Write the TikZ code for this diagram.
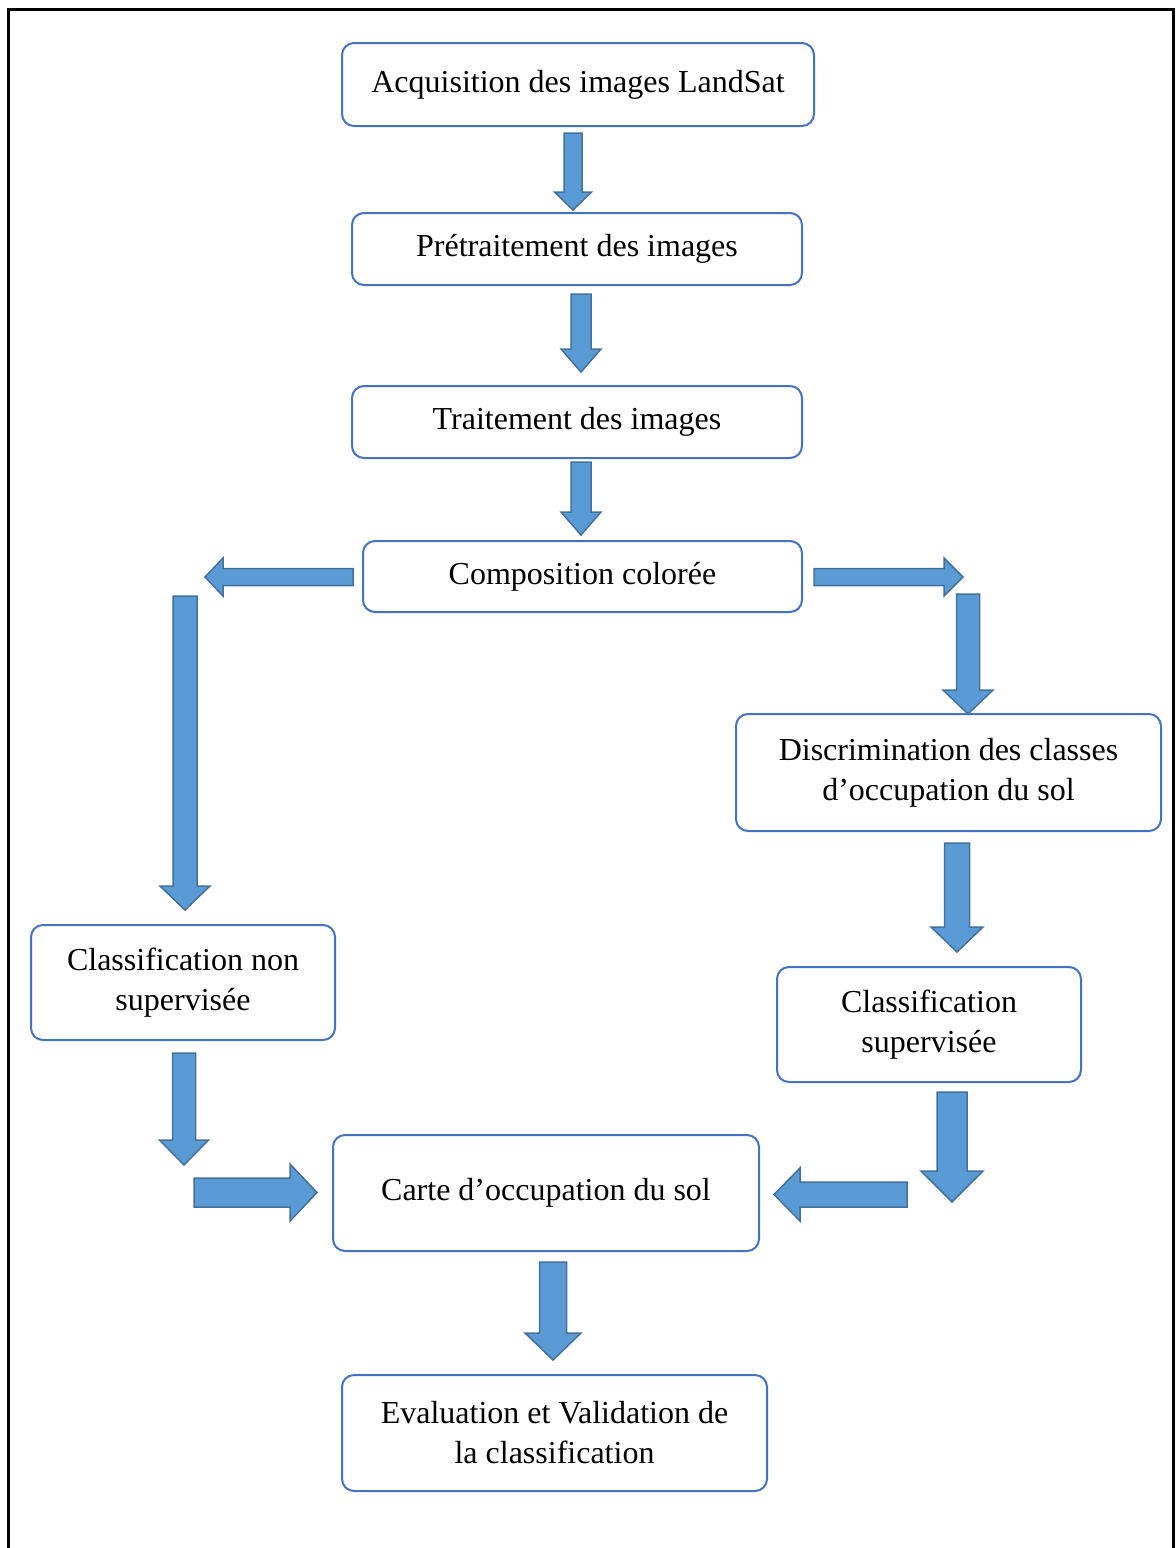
\documentclass[tikz,border=0pt]{standalone}
\usepackage{fontspec}
\setmainfont{Liberation Serif}
\definecolor{boxblue}{HTML}{4472C4}
\definecolor{arrowfill}{HTML}{5B9BD5}
\definecolor{arrowline}{HTML}{41719C}
\tikzset{
  etape/.style={draw=boxblue, line width=1pt, rounded corners=6pt, fill=white,
    align=center, inner sep=0pt, font=\fontsize{16}{20}\selectfont},
  bloc/.style={fill=arrowfill, draw=arrowline, line width=0.75pt, line join=miter}
}
% vertical block arrow: x, y tail, y head base, y tip, shaft half width, head half width
\newcommand{\vbloc}[6]{%
  \draw[bloc] (#1-#5,#2) -- (#1+#5,#2) -- (#1+#5,#3) -- (#1+#6,#3) -- (#1,#4)
    -- (#1-#6,#3) -- (#1-#5,#3) -- cycle;}
% horizontal block arrow: y, x tail, x head base, x tip, shaft half height, head half height
\newcommand{\hbloc}[6]{%
  \draw[bloc] (#2,#1-#5) -- (#2,#1+#5) -- (#3,#1+#5) -- (#3,#1+#6) -- (#4,#1)
    -- (#3,#1-#6) -- (#3,#1-#5) -- cycle;}
\begin{document}
\begin{tikzpicture}[x=0.5pt, y=-0.5pt]
  \useasboundingbox (0,0) rectangle (1175,1548);
  % cadre
  \draw[line width=1.5pt] (8.5,1548) -- (8.5,9.5) -- (1173.5,9.5) -- (1173.5,1548);

  % etapes
  \node[etape, minimum width=236pt, minimum height=41.5pt] (acq) at (578,84.5) {Acquisition des images LandSat};
  \node[etape, minimum width=225pt, minimum height=36pt] (pretr) at (577,249) {Prétraitement des images};
  \node[etape, minimum width=225pt, minimum height=36pt] (trait) at (577,422) {Traitement des images};
  \node[etape, minimum width=219.5pt, minimum height=35.5pt] (compo) at (582.5,576.5) {Composition colorée};
  \node[etape, minimum width=212.5pt, minimum height=58.5pt] (discr) at (948.5,772.5) {Discrimination des classes\\d’occupation du sol};
  \node[etape, minimum width=152pt, minimum height=57.5pt] (nonsup) at (183,982.5) {Classification non\\supervisée};
  \node[etape, minimum width=152pt, minimum height=57.5pt] (sup) at (929,1024.5) {Classification\\supervisée};
  \node[etape, minimum width=213pt, minimum height=58pt] (carte) at (546,1193) {Carte d’occupation du sol};
  \node[etape, minimum width=212.5pt, minimum height=58pt] (eval) at (554.5,1433) {Evaluation et Validation de\\la classification};

  % fleches
  \vbloc{573}{133}{192}{210}{9}{18.5}
  \vbloc{581}{294}{349}{372}{10}{20}
  \vbloc{581}{462}{512}{535}{10}{20}
  \hbloc{577}{353}{223}{205}{8.5}{19}
  \hbloc{577}{814}{944}{963}{8.5}{19}
  \vbloc{185}{596}{886}{910}{12}{25}
  \vbloc{968}{594}{690}{714}{11.5}{25}
  \vbloc{957}{843}{927}{952}{12.5}{26}
  \vbloc{184}{1053}{1140}{1165}{11.5}{24.5}
  \hbloc{1192.5}{194}{290}{317}{14.5}{28.5}
  \vbloc{952}{1092}{1171}{1202}{15}{31}
  \hbloc{1194.5}{907}{800}{774}{12.5}{26.5}
  \vbloc{553}{1262}{1333}{1360}{13.5}{28}
\end{tikzpicture}
\end{document}
